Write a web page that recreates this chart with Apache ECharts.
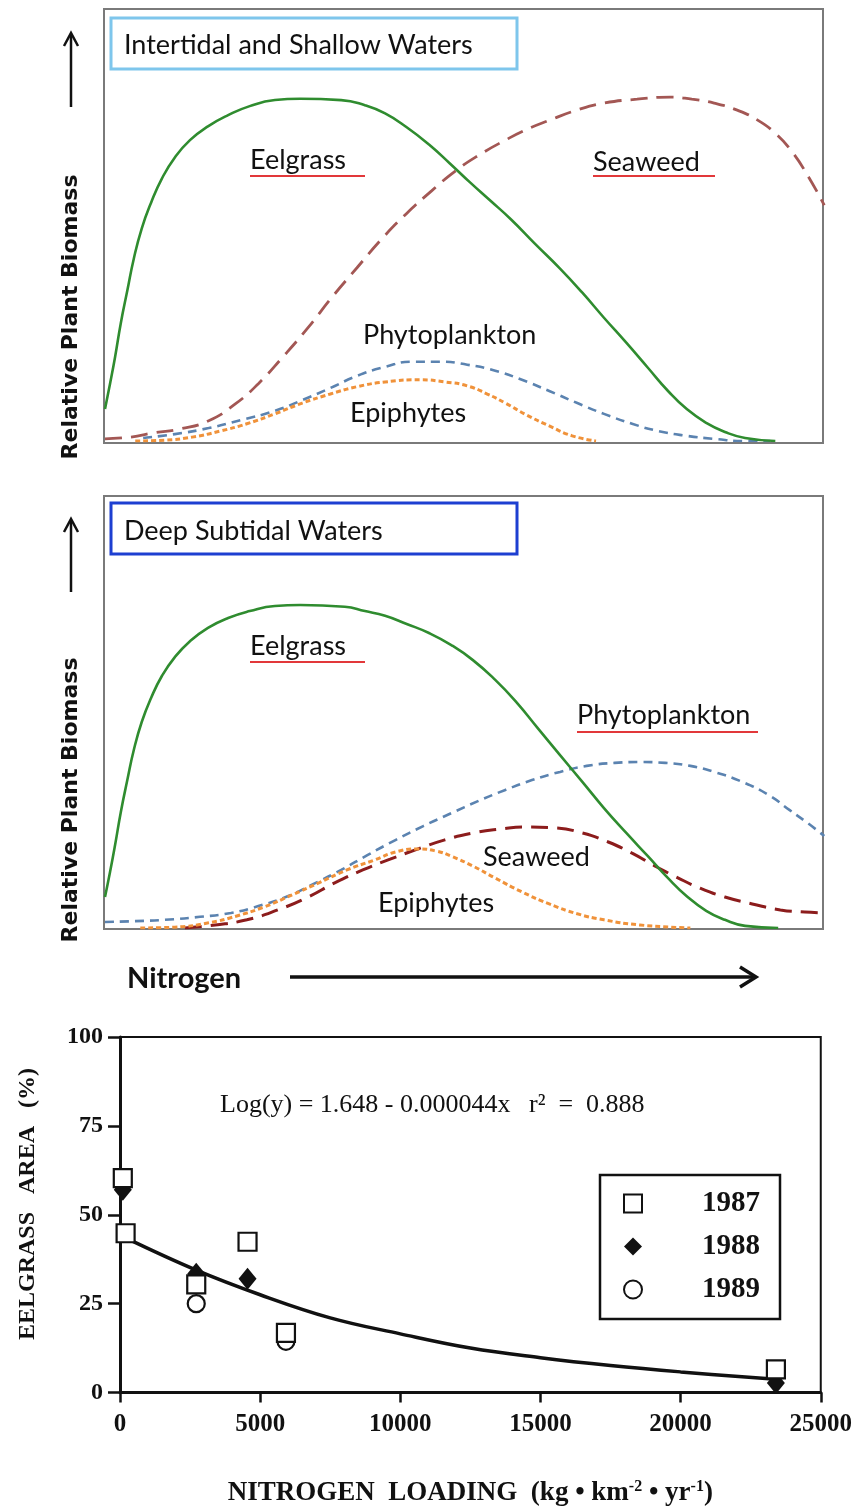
<!DOCTYPE html>
<html>
<head>
<meta charset="utf-8">
<script src="https://cdn.jsdelivr.net/npm/echarts@6/dist/echarts.min.js"></script>
<style>
html,body{margin:0;padding:0;background:#fff;}
#chart{width:855px;height:1508px;}
</style>
</head>
<body>
<div id="chart"></div>
<script>
// ---------- Panel 1: Intertidal and Shallow Waters (relative units, x: nitrogen 0-100, y: biomass 0-100)
const shallowEelgrass = [[0,7.4],[0.7,13.3],[1.4,19.5],[2.2,27.4],[3.1,34.9],[4.0,42.3],[5.1,49.3],[6.4,55.3],[7.9,60.9],[9.7,65.8],[11.8,69.8],[14.3,73.0],[17.1,75.6],[20.1,77.7],[23.6,79.1],[27.1,79.4],[32.8,79.1],[36.1,77.9],[38.9,76.0],[41.9,72.8],[45.0,68.8],[47.9,64.4],[50.7,60.0],[53.5,55.8],[56.4,51.4],[59.7,45.8],[63.2,40.0],[66.3,34.4],[69.3,28.6],[72.4,22.8],[75.4,17.0],[78.2,11.6],[80.8,7.4],[83.5,4.2],[86.1,2.1],[88.9,0.7],[93.1,0]];
const shallowSeaweed = [[0,0.5],[3.5,0.9],[6.8,1.9],[10.4,2.8],[14.4,4.7],[18.1,8.6],[21.3,13.3],[24.7,19.5],[28.2,26.3],[31.5,33.3],[35.0,40.2],[38.5,47.0],[41.9,52.8],[45.4,58.1],[48.8,62.8],[52.1,66.5],[55.6,69.8],[58.6,72.3],[61.7,74.4],[65.4,76.7],[69.3,78.4],[73.9,79.3],[78.5,79.8],[81.5,79.3],[84.6,78.4],[87.9,76.7],[90.7,74.4],[93.1,71.4],[95.3,67.4],[97.6,61.6],[99.9,54.7]];
const shallowPhyto = [[5.3,0.7],[9.7,1.6],[14.4,3.0],[19.0,4.9],[23.6,7.0],[27.4,9.5],[31.3,12.3],[35.0,15.1],[38.9,17.2],[42.6,18.4],[46.5,18.4],[50.3,17.7],[54.2,16.3],[57.9,14.2],[61.7,11.6],[65.6,8.8],[69.3,6.3],[73.2,4.0],[76.9,2.3],[80.8,1.2],[84.6,0.5],[88.9,0],[92.4,0]];
const shallowEpiphytes = [[4.2,0],[8.3,0.2],[12.1,0.9],[16.0,2.3],[19.7,4.0],[23.6,6.3],[27.4,8.8],[31.3,10.9],[35.0,12.6],[38.9,13.7],[43.8,14.2],[47.2,13.7],[50.3,12.8],[53.1,10.9],[55.6,8.8],[58.6,6.0],[61.7,3.5],[64.9,1.2],[68.2,0]];

// ---------- Panel 2: Deep Subtidal Waters
const deepEelgrass = [[0,7.2],[0.7,13.0],[1.4,19.3],[2.2,27.0],[3.1,34.4],[4.0,41.4],[5.1,47.9],[6.4,53.5],[7.9,58.6],[9.7,63.0],[11.8,66.7],[14.3,69.8],[17.1,72.1],[20.1,73.7],[23.6,74.9],[27.1,75.1],[33.3,74.7],[36.1,73.7],[38.9,72.6],[41.9,70.7],[45.0,68.6],[48.1,65.8],[51.1,62.3],[54.2,57.7],[57.1,52.6],[60.1,46.5],[63.2,40.2],[66.3,34.0],[69.3,27.9],[72.4,22.1],[75.4,16.7],[78.2,11.6],[80.8,7.4],[83.5,4.0],[86.1,1.9],[88.9,0.5],[93.5,0]];
const deepPhyto = [[0,1.4],[4.2,1.6],[8.3,1.9],[13.2,2.6],[17.5,3.5],[21.3,5.1],[25.1,7.2],[28.9,10.2],[32.8,13.5],[36.5,17.0],[40.4,20.5],[44.2,23.7],[48.1,26.7],[51.8,29.5],[55.6,32.1],[59.3,34.4],[63.2,36.3],[66.9,37.7],[70.8,38.4],[74.3,38.6],[77.8,38.4],[81.3,37.7],[84.6,36.3],[88.2,34.2],[92.2,30.9],[95.1,27.4],[97.6,24.4],[99.9,21.4]];
const deepSeaweed = [[11.1,0],[15.3,0.7],[19.7,1.9],[24.0,4.2],[28.2,7.2],[31.9,10.5],[35.8,13.5],[39.6,16.0],[43.5,18.4],[47.2,20.5],[51.1,22.1],[54.9,23.0],[58.6,23.5],[62.5,23.3],[66.3,22.1],[69.9,20.0],[73.2,17.4],[76.4,14.4],[79.3,11.9],[82.6,9.3],[86.1,7.2],[89.9,5.6],[93.8,4.2],[97.2,3.7],[99.9,3.5]];
const deepEpiphytes = [[4.9,0],[9.7,0.2],[14.4,1.2],[18.3,2.8],[22.1,4.9],[26.0,7.7],[29.7,10.5],[33.6,13.5],[37.4,15.8],[40.4,17.7],[43.5,18.4],[46.0,17.9],[48.1,16.7],[51.1,14.4],[54.2,11.6],[57.9,8.4],[61.7,5.6],[65.6,3.3],[69.3,1.9],[74.3,0.7],[81.3,0]];

// ---------- Bottom chart: eelgrass area (%) vs nitrogen loading
const years = ['1987','1988','1989'];
const area1987 = [[100,60.3],[200,44.8],[2720,30.4],[4550,42.4],[5920,16.8],[23400,6.5]];
const area1988 = [[100,57],[2720,33.4],[4550,32],[23400,2.7]];
const area1989 = [[2720,25],[5920,14.4]];
const fitCurve = [[200,43.5],[2700,34.5],[5000,27.5],[7500,21],[10000,16.5],[12500,12.5],[15000,9.8],[17500,7.6],[20000,5.8],[23400,3.7]];
const yTicks = [0,25,50,75,100];
const xTicks = [0,5000,10000,15000,20000,25000];

const SANS = 'Lato, "Open Sans", sans-serif';
const SERIF = '"Liberation Serif", "DejaVu Serif", serif';

const chart = echarts.init(document.getElementById('chart'), null, {renderer:'canvas'});

function curve(name, data, xi, color, width, dash, z) {
  return {
    name: name, type: 'line', xAxisIndex: xi, yAxisIndex: xi,
    data: data, smooth: 0.5, showSymbol: false, symbol: 'none', z: z || 2,
    lineStyle: { color: color, width: width, type: dash || 'solid', cap: 'butt' },
    emphasis: { disabled: true }, silent: true
  };
}

function txt(x, y, text, font, extra) {
  return Object.assign({
    type: 'text', x: x, y: y, silent: true, z: 50,
    style: Object.assign({ text: text, font: font, fill: '#111',
      textAlign: 'left', textVerticalAlign: 'middle', align: 'left', verticalAlign: 'middle' }, extra && extra.style || {})
  }, extra && extra.el || {});
}
function hline(x1, x2, y, color, w) {
  return { type: 'line', silent: true, z: 50, shape: { x1: x1, y1: y, x2: x2, y2: y }, style: { stroke: color, lineWidth: w } };
}
function vArrow(x, yBottom, yTop) {
  return [
    { type: 'line', silent: true, z: 50, shape: { x1: x, y1: yBottom, x2: x, y2: yTop + 2 }, style: { stroke: '#111', lineWidth: 2.5 } },
    { type: 'polyline', silent: true, z: 50, shape: { points: [[x - 7, yTop + 13], [x, yTop], [x + 7, yTop + 13]] }, style: { stroke: '#111', lineWidth: 2.5, fill: null } }
  ];
}

const sansTitle = 'bold 22px "DejaVu Sans", Verdana, sans-serif';
const labelFont = '27px ' + SANS;

const graphics = [
  // panel frames
  { type: 'rect', silent: true, z: 1, shape: { x: 104, y: 9, width: 719, height: 434 }, style: { stroke: '#7a7a7a', lineWidth: 2, fill: null } },
  { type: 'rect', silent: true, z: 1, shape: { x: 104, y: 496, width: 719, height: 433 }, style: { stroke: '#7a7a7a', lineWidth: 2, fill: null } },
  // panel title boxes
  { type: 'rect', silent: true, z: 40, shape: { x: 111, y: 18, width: 406, height: 51 }, style: { stroke: '#7ec6ec', lineWidth: 3, fill: '#fff' } },
  txt(124, 45, 'Intertidal and Shallow Waters', '27px ' + SANS),
  { type: 'rect', silent: true, z: 40, shape: { x: 111, y: 503, width: 406, height: 51 }, style: { stroke: '#1d3fd1', lineWidth: 3, fill: '#fff' } },
  txt(124, 531, 'Deep Subtidal Waters', '27px ' + SANS),
  // y titles
  txt(71, 317, 'Relative Plant Biomass', sansTitle, { el: { rotation: Math.PI / 2 }, style: { textAlign: 'center', align: 'center' } }),
  txt(71, 800, 'Relative Plant Biomass', sansTitle, { el: { rotation: Math.PI / 2 }, style: { textAlign: 'center', align: 'center' } }),
  ...vArrow(71, 107, 33),
  ...vArrow(71, 592, 519),
  // curve labels panel 1
  txt(250, 160, 'Eelgrass', labelFont), hline(250, 365, 176, '#e2383a', 2.2),
  txt(593, 162, 'Seaweed', labelFont), hline(593, 715, 176, '#e2383a', 2.2),
  txt(363, 335, 'Phytoplankton', labelFont),
  txt(350, 413, 'Epiphytes', labelFont),
  // curve labels panel 2
  txt(250, 646, 'Eelgrass', labelFont), hline(250, 365, 662, '#e2383a', 2.2),
  txt(577, 715, 'Phytoplankton', labelFont), hline(577, 758, 732, '#e2383a', 2.2),
  txt(483, 857, 'Seaweed', labelFont),
  txt(378, 903, 'Epiphytes', labelFont),
  // Nitrogen arrow
  txt(127, 979, 'Nitrogen', 'bold 29px ' + SANS),
  { type: 'line', silent: true, z: 50, shape: { x1: 290, y1: 977, x2: 754, y2: 977 }, style: { stroke: '#111', lineWidth: 3.5 } },
  { type: 'polyline', silent: true, z: 50, shape: { points: [[740, 967], [756, 977], [740, 987]] }, style: { stroke: '#111', lineWidth: 3.5, fill: null } },
  // bottom chart annotations
  txt(220, 1105, 'Log(y) = 1.648 - 0.000044x', '26px ' + SERIF),
  txt(529, 1105, 'r²  =  0.888', '26px ' + SERIF),
  txt(28, 1204, 'EELGRASS   AREA   (%)', 'bold 24px ' + SERIF, { el: { rotation: Math.PI / 2 }, style: { textAlign: 'center', align: 'center' } })
];

const option = {
  animation: false,
  backgroundColor: '#fff',
  grid: [
    { left: 105, top: 10, width: 720, height: 431, show: false },
    { left: 105, top: 498, width: 720, height: 430, show: false },
    { left: 120, top: 1037, width: 708, height: 368, show: true, borderColor: '#111', borderWidth: 2 }
  ],
  xAxis: [
    { gridIndex: 0, type: 'value', min: 0, max: 100, show: false },
    { gridIndex: 1, type: 'value', min: 0, max: 100, show: false },
    { gridIndex: 2, type: 'value', min: xTicks[0], max: xTicks[xTicks.length - 1], interval: 5000,
      axisLine: { show: true, onZero: false, lineStyle: { color: '#111', width: 3 } },
      axisTick: { show: true, inside: false, length: 10, lineStyle: { color: '#111', width: 2.5 } },
      splitLine: { show: false },
      axisLabel: { margin: 20, color: '#111', fontFamily: SERIF, fontWeight: 'bold', fontSize: 25,
        formatter: function (v) { return String(v); } },
      name: '{t|NITROGEN  LOADING  (kg • km}{s|-2}{t| • yr}{s|-1}{t|)}',
      nameLocation: 'middle', nameGap: 86,
      nameTextStyle: { rich: {
        t: { fontFamily: SERIF, fontWeight: 'bold', fontSize: 27, color: '#111', lineHeight: 30 },
        s: { fontFamily: SERIF, fontWeight: 'bold', fontSize: 16, color: '#111', verticalAlign: 'top', lineHeight: 30, padding: [0, 0, 10, 0] }
      } }
    }
  ],
  yAxis: [
    { gridIndex: 0, type: 'value', min: 0, max: 100, show: false },
    { gridIndex: 1, type: 'value', min: 0, max: 100, show: false },
    { gridIndex: 2, type: 'value', min: yTicks[0], max: yTicks[yTicks.length - 1], interval: 25,
      axisLine: { show: true, onZero: false, lineStyle: { color: '#111', width: 3 } },
      axisTick: { show: true, inside: false, length: 12, lineStyle: { color: '#111', width: 2.5 } },
      splitLine: { show: false },
      axisLabel: { margin: 17, color: '#111', fontFamily: SERIF, fontWeight: 'bold', fontSize: 24,
        formatter: function (v) { return String(v); } }
    }
  ],
  legend: {
    orient: 'vertical', left: 600, top: 1175,
    padding: [14, 20, 15, 23], itemGap: 14, itemWidth: 18, itemHeight: 18,
    borderColor: '#111', borderWidth: 2.5, backgroundColor: '#fff',
    textStyle: { fontFamily: SERIF, fontWeight: 'bold', fontSize: 29, color: '#111', padding: [0, 0, 0, 55] },
    data: years, selectedMode: false
  },
  graphic: graphics,
  series: [
    // panel 1
    curve('shallowPhyto', shallowPhyto, 0, '#5b83b0', 2.6, [9, 6], 2),
    curve('shallowEpiphytes', shallowEpiphytes, 0, '#f0923a', 3, [5, 3], 3),
    curve('shallowSeaweed', shallowSeaweed, 0, '#a35754', 2.8, [17, 9], 4),
    curve('shallowEelgrass', shallowEelgrass, 0, '#2f8c2f', 2.6, 'solid', 5),
    // panel 2
    curve('deepPhyto', deepPhyto, 1, '#5b83b0', 2.6, [9, 6], 2),
    curve('deepSeaweed', deepSeaweed, 1, '#8c1c1c', 3, [17, 9], 3),
    curve('deepEpiphytes', deepEpiphytes, 1, '#f0923a', 3, [5, 3], 4),
    curve('deepEelgrass', deepEelgrass, 1, '#2f8c2f', 2.6, 'solid', 5),
    // bottom chart
    { name: 'fit', type: 'line', xAxisIndex: 2, yAxisIndex: 2, data: fitCurve, smooth: 0.4, showSymbol: false, symbol: 'none',
      lineStyle: { color: '#111', width: 3.5 }, z: 3, silent: true },
    { name: years[2], type: 'scatter', xAxisIndex: 2, yAxisIndex: 2, data: area1989, symbol: 'circle', symbolSize: 17,
      itemStyle: { color: '#fff', borderColor: '#111', borderWidth: 2.2, opacity: 1 }, z: 4 },
    { name: years[1], type: 'scatter', xAxisIndex: 2, yAxisIndex: 2, data: area1988, symbol: 'diamond', symbolSize: [18, 22],
      itemStyle: { color: '#111', borderColor: '#111', borderWidth: 0, opacity: 1 }, z: 5 },
    { name: years[0], type: 'scatter', xAxisIndex: 2, yAxisIndex: 2, data: area1987, symbol: 'rect', symbolSize: 18,
      itemStyle: { color: '#fff', borderColor: '#111', borderWidth: 2.2, opacity: 1 }, z: 6 }
  ]
};
chart.setOption(option);
</script>
</body>
</html>
